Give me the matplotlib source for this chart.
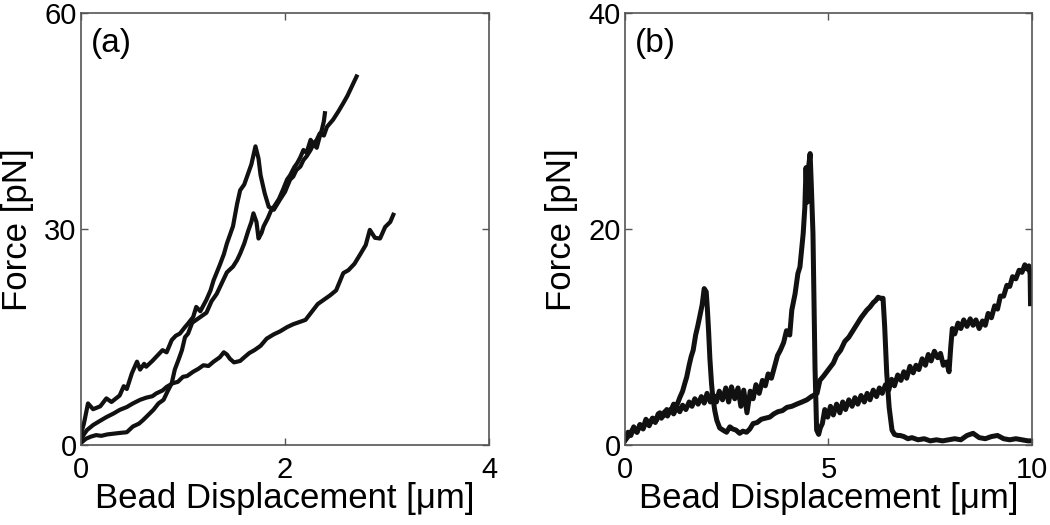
import matplotlib
matplotlib.use("Agg")
import matplotlib.pyplot as plt

plt.rcParams['font.family'] = ['Liberation Sans', 'DejaVu Sans']

# ---------------- Panel (a) data ----------------
a1_x = [0, 0.03, 0.07, 0.12, 0.19, 0.25, 0.30, 0.38, 0.42, 0.45,
        0.50, 0.55, 0.58, 0.62, 0.64, 0.70, 0.74, 0.80, 0.84, 0.89,
        0.93, 0.97, 1.02, 1.05, 1.10, 1.13, 1.17, 1.23, 1.27, 1.30,
        1.36, 1.40, 1.43, 1.49, 1.53, 1.56, 1.60, 1.64, 1.67, 1.71,
        1.74, 1.76, 1.80, 1.84, 1.89, 1.92, 1.95, 2.00, 2.02, 2.05,
        2.08, 2.11, 2.15, 2.18, 2.21, 2.25, 2.28, 2.31, 2.34, 2.38,
        2.41, 2.47, 2.52, 2.57, 2.61, 2.64, 2.70]
a1_y = [1.5, 3.0, 5.8, 5.0, 5.4, 6.5, 6.0, 6.9, 8.2, 7.8,
        10.0, 11.6, 10.5, 11.3, 10.9, 11.7, 12.3, 13.2, 12.9, 14.6,
        15.2, 15.5, 16.4, 16.9, 17.8, 19.2, 18.6, 20.2, 21.5, 22.9,
        25.0, 26.5, 28.0, 30.4, 33.5, 35.4, 36.2, 37.8, 39.0, 41.5,
        39.8, 37.5, 35.0, 33.1, 32.7, 33.4, 34.1, 35.2, 35.9, 36.9,
        37.3, 38.2, 38.7, 39.6, 40.1, 41.0, 41.9, 42.4, 43.3, 43.0,
        44.2, 45.2, 46.3, 47.5, 48.5, 49.4, 51.2]

a2_x = [0, 0.05, 0.10, 0.15, 0.20, 0.26, 0.32, 0.38, 0.45, 0.51,
        0.57, 0.61, 0.66, 0.71, 0.76, 0.81, 0.85, 0.89, 0.92, 0.96,
        0.99, 1.02, 1.05, 1.09, 1.13, 1.17, 1.23, 1.28, 1.33, 1.38,
        1.43, 1.49, 1.53, 1.56, 1.60, 1.64, 1.67, 1.69, 1.72, 1.74,
        1.77, 1.79, 1.83, 1.86, 1.90, 1.94, 1.98, 2.02, 2.05, 2.09,
        2.12, 2.15, 2.18, 2.21, 2.25, 2.28, 2.31, 2.34, 2.36, 2.38,
        2.39]
a2_y = [0.3, 0.9, 1.2, 1.4, 1.3, 1.5, 1.6, 1.7, 1.8, 2.6,
        3.0, 3.5, 4.2, 4.9, 5.8, 6.3, 7.5, 8.6, 10.5, 12.0,
        13.2, 15.0, 15.5, 17.0, 17.4, 17.8, 18.4, 20.0, 21.0, 22.5,
        24.0, 24.8, 25.7, 26.6, 28.0, 29.8, 31.0, 32.2, 31.0, 28.7,
        29.5, 30.4, 31.5, 32.5, 33.3, 34.2, 35.5, 36.9, 37.5, 38.6,
        39.2, 40.0, 41.0, 40.6, 42.4, 41.8, 41.3, 42.9, 43.8, 45.0,
        46.1]

a3_x = [0, 0.03, 0.06, 0.12, 0.19, 0.25, 0.32, 0.38, 0.45, 0.51,
        0.58, 0.64, 0.70, 0.74, 0.80, 0.84, 0.90, 0.95, 1.00, 1.04,
        1.10, 1.15, 1.20, 1.25, 1.30, 1.36, 1.40, 1.43, 1.46, 1.50,
        1.56, 1.60, 1.65, 1.70, 1.76, 1.82, 1.89, 1.95, 2.02, 2.08,
        2.14, 2.20, 2.26, 2.32, 2.38, 2.44, 2.50, 2.57, 2.62, 2.68,
        2.74, 2.79, 2.83, 2.88, 2.93, 2.98, 3.03, 3.06]
a3_y = [0.8, 1.5, 2.1, 2.8, 3.4, 3.9, 4.4, 4.9, 5.3, 5.8,
        6.3, 6.6, 6.8, 7.2, 7.6, 8.1, 8.6, 8.8, 9.5, 9.6,
        10.2, 10.6, 11.1, 11.0, 11.6, 12.2, 12.9, 12.6, 12.0, 11.5,
        11.7, 12.2, 12.8, 13.2, 13.8, 14.8, 15.4, 15.8, 16.4, 16.8,
        17.1, 17.4, 18.5, 19.6, 20.2, 20.8, 21.5, 23.9, 24.3, 25.2,
        26.6, 27.8, 29.9, 28.8, 28.7, 30.3, 31.0, 32.0]

# ---------------- Panel (b) data ----------------
b1_x = [0.00, 0.10, 0.20, 0.30, 0.37, 0.45, 0.52, 0.60, 0.69, 0.78,
        0.86, 0.95, 1.03, 1.12, 1.20, 1.28, 1.35, 1.42, 1.48, 1.52,
        1.58, 1.63, 1.68, 1.74, 1.79, 1.84, 1.90, 1.95, 2.00, 2.03,
        2.06, 2.09, 2.13, 2.16, 2.21, 2.26, 2.33, 2.41, 2.50, 2.58,
        2.65, 2.73, 2.82, 2.90, 2.99, 3.07, 3.15, 3.25, 3.35, 3.45,
        3.56, 3.66, 3.76, 3.87, 3.98, 4.10, 4.22, 4.35, 4.47, 4.58,
        4.72, 4.79, 4.88, 4.96, 5.04, 5.12, 5.20, 5.30, 5.40, 5.50,
        5.60, 5.70, 5.80, 5.88, 5.94, 6.02, 6.10, 6.16, 6.22, 6.28,
        6.34, 6.38, 6.43, 6.49, 6.56, 6.62, 6.70, 6.76, 6.85, 6.95,
        7.05, 7.20, 7.35, 7.50, 7.65, 7.80, 7.95, 8.10, 8.25, 8.40,
        8.55, 8.70, 8.85, 9.00, 9.15, 9.30, 9.45, 9.60, 9.75, 9.90,
        10.0]
b1_y = [0.4, 0.9, 1.5, 1.2, 1.9, 1.6, 2.4, 2.0, 2.5, 2.3,
        3.0, 2.7, 3.3, 3.1, 3.8, 3.7, 4.4, 5.0, 5.8, 6.3,
        7.4, 8.2, 8.8, 10.2, 11.0, 11.9, 13.0, 14.5, 14.2, 12.5,
        10.4, 8.0, 5.7, 4.5, 3.2, 2.3, 1.6, 1.4, 1.2, 1.7,
        1.5, 1.4, 1.1, 1.3, 1.2, 1.5, 2.0, 2.1, 2.4, 2.5,
        2.6, 2.9, 3.1, 3.2, 3.5, 3.6, 3.8, 4.0, 4.2, 4.5,
        4.8, 6.0, 6.4, 6.8, 7.2, 7.6, 8.3, 8.8, 9.6, 10.0,
        10.6, 11.2, 11.8, 12.2, 12.5, 12.8, 13.2, 13.4, 13.7, 13.6,
        13.6, 11.0, 6.7, 3.5, 1.4, 1.0, 0.9, 0.9, 0.8, 0.6,
        0.7, 0.5, 0.6, 0.4, 0.5, 0.4, 0.5, 0.6, 0.5, 0.9,
        1.1, 0.7, 0.6, 0.8, 0.9, 0.6, 0.5, 0.6, 0.5, 0.4,
        0.4]

b2_x = [0.00, 0.08, 0.15, 0.22, 0.30, 0.38, 0.45, 0.52, 0.60, 0.68,
        0.75, 0.82, 0.90, 0.98, 1.05, 1.12, 1.20, 1.28, 1.35, 1.42,
        1.50, 1.58, 1.65, 1.72, 1.80, 1.88, 1.95, 2.02, 2.10, 2.18,
        2.25, 2.32, 2.40, 2.48, 2.55, 2.62, 2.70, 2.78, 2.85, 2.92,
        3.00, 3.08, 3.15, 3.22, 3.30, 3.38, 3.45, 3.52, 3.60, 3.68,
        3.75, 3.82, 3.90, 3.97, 4.05, 4.10, 4.18, 4.25, 4.30, 4.34,
        4.38, 4.42, 4.45, 4.48, 4.52, 4.55, 4.58, 4.62, 4.65, 4.67,
        4.71, 4.76, 4.80, 4.85, 4.91, 4.98, 5.05, 5.12, 5.20, 5.28,
        5.35, 5.42, 5.50, 5.58, 5.65, 5.72, 5.80, 5.88, 5.95, 6.02,
        6.10, 6.18, 6.25, 6.32, 6.40, 6.48, 6.55, 6.62, 6.70, 6.78,
        6.85, 6.92, 7.00, 7.08, 7.15, 7.22, 7.30, 7.38, 7.45, 7.52,
        7.60, 7.68, 7.75, 7.82, 7.90, 7.96, 8.00, 8.04, 8.10, 8.18,
        8.25, 8.32, 8.40, 8.48, 8.55, 8.62, 8.70, 8.78, 8.85, 8.92,
        9.00, 9.08, 9.15, 9.22, 9.30, 9.38, 9.45, 9.52, 9.60, 9.68,
        9.75, 9.82, 9.88, 9.92, 9.95, 9.96]
b2_y = [0.5, 1.2, 0.9, 1.7, 1.2, 1.9, 1.5, 2.2, 1.8, 2.5,
        2.1, 2.9, 2.5, 3.1, 2.7, 3.3, 2.9, 3.5, 3.1, 3.7,
        3.3, 4.0, 3.6, 4.3, 3.8, 4.5, 3.9, 4.8, 4.0, 4.6,
        4.0, 5.0, 4.2, 5.3, 4.0, 5.4, 4.3, 5.3, 3.6, 5.1,
        3.0, 5.0, 4.3, 5.6, 4.8, 6.0, 5.5, 6.6, 6.2, 7.3,
        8.3, 8.8, 9.5, 10.6, 10.2, 12.5, 14.0, 15.9, 16.5, 18.0,
        19.6, 22.0, 25.7, 22.5, 26.0, 27.0, 24.0, 19.6, 12.0, 7.2,
        1.4, 1.0, 1.6, 2.0, 3.3, 2.6, 3.6, 2.8, 3.8, 3.0,
        4.0, 3.3, 4.2, 3.6, 4.4, 3.8, 4.6, 4.0, 4.8, 4.2,
        5.1, 4.5, 5.3, 4.8, 5.6, 5.1, 6.1, 5.5, 6.5, 6.0,
        6.8, 6.2, 7.3, 6.7, 7.4, 7.0, 8.0, 7.4, 8.4, 7.8,
        8.7, 8.1, 8.5, 7.4, 7.7, 6.8, 9.0, 10.8, 10.3, 11.3,
        10.8, 11.6, 11.0, 11.7, 11.1, 11.6, 10.8, 11.5, 11.1, 12.2,
        11.8, 12.9, 12.6, 13.8, 13.8, 14.8, 14.7, 15.6, 15.4, 16.2,
        16.0, 16.7, 16.3, 16.6, 15.8, 13.1]

a_xticks = [0, 2, 4]
a_yticks = [0, 30, 60]
b_xticks = [0, 5, 10]
b_yticks = [0, 20, 40]
panel_labels = ['(a)', '(b)']
xlabel_text = 'Bead Displacement [\u03bcm]'
ylabel_text = 'Force [pN]'

fig = plt.figure(figsize=(10.5, 5.25), dpi=100)
ax1 = fig.add_axes([0.077, 0.152, 0.389, 0.823])
ax2 = fig.add_axes([0.595, 0.152, 0.388, 0.823])

for x, y in [(a1_x, a1_y), (a2_x, a2_y), (a3_x, a3_y)]:
    ax1.plot(x, y, color='#111111', lw=3.0, solid_joinstyle='round')
for x, y in [(b1_x, b1_y), (b2_x, b2_y)]:
    ax2.plot(x, y, color='#111111', lw=3.6, solid_joinstyle='round')

spine_col = '#555555'
for ax, xt, yt, lab in [(ax1, a_xticks, a_yticks, panel_labels[0]),
                        (ax2, b_xticks, b_yticks, panel_labels[1])]:
    ax.set_xlim(xt[0], xt[-1])
    ax.set_ylim(yt[0], yt[-1])
    ax.set_xticks(xt)
    ax.set_yticks(yt)
    ax.tick_params(direction='in', length=5, width=1, color=spine_col,
                   top=True, right=True, labelsize=21)
    ax.tick_params(axis='x', pad=8)
    ax.tick_params(axis='y', pad=3)
    for s in ax.spines.values():
        s.set_color(spine_col)
        s.set_linewidth(1.2)
    ax.set_xlabel(xlabel_text, fontsize=25)
    ax.set_ylabel(ylabel_text, fontsize=25)
    ax.xaxis.set_label_coords(0.5, -0.085)
    ax.yaxis.set_label_coords(-0.115, 0.5)
    ax.text(0.025, 0.965, lab, transform=ax.transAxes, fontsize=24,
            ha='left', va='top')

fig.savefig('out.png', dpi=100)
